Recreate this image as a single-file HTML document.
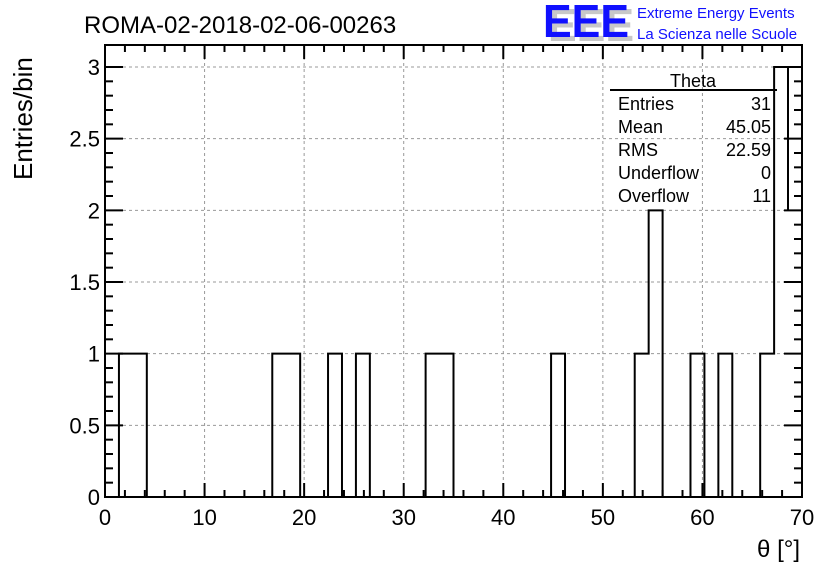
<!DOCTYPE html>
<html><head><meta charset="utf-8"><style>
body{margin:0;background:#fff;}
svg{display:block;font-family:"Liberation Sans",sans-serif;}
</style></head><body>
<svg id="chart" width="836" height="572" viewBox="0 0 836 572">
<g id="grid"></g>
<g id="bars"></g>
<g id="axes"></g>
<text x="84" y="33" font-size="24">ROMA-02-2018-02-06-00263</text>
<g>
<text x="548" y="41" font-size="46" fill="#c8c8c8" font-weight="bold" textLength="86" lengthAdjust="spacingAndGlyphs">EEE</text>
<text x="543" y="37" font-size="46" fill="#1010ff" font-weight="bold" textLength="86" lengthAdjust="spacingAndGlyphs">EEE</text>
<text x="637" y="18" font-size="15" fill="#1010ff">Extreme Energy Events</text>
<text x="637" y="39" font-size="15" fill="#1010ff">La Scienza nelle Scuole</text>
</g>
<text x="0" y="0" font-size="26" transform="translate(32,180) rotate(-90)">Entries/bin</text>
<text x="800" y="557" font-size="24" text-anchor="end">θ [°]</text>
<g font-size="18">
<line x1="610" y1="90" x2="777" y2="90" stroke="#000" stroke-width="2"/>
<line x1="788" y1="67" x2="788" y2="210" stroke="#000" stroke-width="2"/>
<text x="693" y="87" text-anchor="middle">Theta</text>
<text x="618" y="110">Entries</text><text x="771" y="110" text-anchor="end">31</text>
<text x="618" y="133">Mean</text><text x="771" y="133" text-anchor="end">45.05</text>
<text x="618" y="156">RMS</text><text x="771" y="156" text-anchor="end">22.59</text>
<text x="618" y="179">Underflow</text><text x="771" y="179" text-anchor="end">0</text>
<text x="618" y="202">Overflow</text><text x="771" y="202" text-anchor="end">11</text>
</g>
</svg>
<script>
const binCount = 50;
const xRange = [0, 70];
const binValues = [0,1,1,0,0,0,0,0,0,0, 0,0,1,1,0,0,1,0,1,0, 0,0,0,1,1,0,0,0,0,0, 0,0,1,0,0,0,0,0,1,2, 0,0,1,0,1,0,0,1,3,3];
const xTicks = [0,10,20,30,40,50,60,70];
const yTicks = [0,0.5,1,1.5,2,2.5,3];
const yTickLabels = ["0","0.5","1","1.5","2","2.5","3"];

const L=105,R=802,T=45,B=497;
const X=v=>L+(v-xRange[0])/(xRange[1]-xRange[0])*(R-L);
const Y=v=>B-v*(497-67)/3;
const NS="http://www.w3.org/2000/svg";
function mk(tag,attrs,parent){const e=document.createElementNS(NS,tag);for(const k in attrs)e.setAttribute(k,attrs[k]);parent.appendChild(e);return e;}
const grid=document.getElementById('grid'),bars=document.getElementById('bars'),axes=document.getElementById('axes');
xTicks.forEach(t=>{if(t>xRange[0]&&t<xRange[1]){const l=mk('line',{x1:X(t),x2:X(t),y1:T,y2:B,stroke:'#999','stroke-dasharray':'3,3'},grid);

}});
yTicks.forEach(t=>{if(t>0){const l=mk('line',{x1:L,x2:R,y1:Y(t),y2:Y(t),stroke:'#999','stroke-dasharray':'3,3'},grid);

}});
// histogram outline
const bw=(xRange[1]-xRange[0])/binCount;
let d='M'+X(xRange[0])+','+Y(0);
binValues.forEach((v,i)=>{d+=' L'+X(i*bw)+','+Y(v)+' L'+X((i+1)*bw)+','+Y(v);});
d+=' L'+X(xRange[1])+','+Y(0);
const p=mk('path',{d:d,fill:'none',stroke:'#000','stroke-width':2},bars);


// frame
const f=mk('rect',{x:L,y:T,width:R-L,height:B-T,fill:'none',stroke:'#000','stroke-width':2},axes);


// x ticks
for(let v=xRange[0];v<=xRange[1];v+=2){const maj=v%10===0;const len=maj?14:7;
mk('line',{x1:X(v),x2:X(v),y1:B,y2:B-len,stroke:'#000','stroke-width':2},axes);
mk('line',{x1:X(v),x2:X(v),y1:T,y2:T+len,stroke:'#000','stroke-width':2},axes);}
xTicks.forEach(t=>{const tx=mk('text',{x:X(t),y:525,'font-size':22,'text-anchor':'middle'},axes);tx.textContent=t;

});
for(let k=0;k<=30;k++){const v=k/10;const maj=k%5===0;const len=maj?18:8;
mk('line',{x1:L,x2:L+len,y1:Y(v),y2:Y(v),stroke:'#000','stroke-width':2},axes);
mk('line',{x1:R,x2:R-len,y1:Y(v),y2:Y(v),stroke:'#000','stroke-width':2},axes);}
yTicks.forEach((t,i)=>{const tx=mk('text',{x:100,y:Y(t)+8,'font-size':22,'text-anchor':'end'},axes);tx.textContent=yTickLabels[i];

});
</script>
</body></html>
